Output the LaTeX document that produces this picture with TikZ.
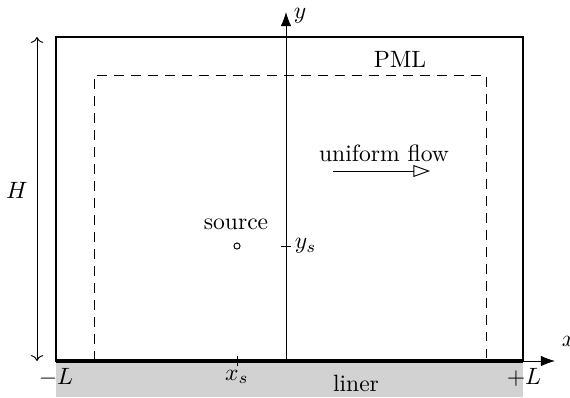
\documentclass[tikz,border=0pt]{standalone}
\usetikzlibrary{arrows.meta}
\begin{document}
\begin{tikzpicture}[x=0.0149cm, y=-0.0149cm]
    \useasboundingbox (0,0) rectangle (570,397);

    % --- styles ---
    \tikzset{rand/.style={line width=0.9pt},
             achse/.style={-{Latex[length=6pt,width=4.5pt]}, thin},
             strich/.style={thin}}

    % --- liner (grau) ---
    \fill[gray!35] (56,361) rectangle (523,397);

    % --- Gebiet und PML ---
    \draw[rand] (56,361) rectangle (523,37);
    \draw[thin, dash pattern=on 4.2pt off 3pt] (94,361) -- (94,75) -- (486,75) -- (486,361);
    \draw[line width=1.6pt] (56,361) -- (523,361);

    % --- Achsen ---
    \coordinate (O) at (286,361);
    \coordinate (yend) at (286,12);
    \coordinate (xstart) at (523,361);
    \coordinate (xend) at (555,361);
    \draw[achse] (O) -- (yend);
    \draw[achse] (xstart) -- (xend);
    \node[anchor=west, inner sep=1pt] (ylab) at (291,16) {$y$};
    \node[anchor=south west, inner sep=1pt] (xlab) at (559,349) {$x$};

    % --- Hoehe H ---
    \coordinate (hoben) at (37,37);
    \coordinate (hunten) at (37,361);
    \draw[{To}-{To}, thin] (hoben) -- (hunten);
    \node (hlab) at (17,190) {$H$};

    % --- Quelle ---
    \node[circle, draw, thin, inner sep=0pt, minimum size=2.6pt] (quelle) at (237,246) {};
    \node[anchor=south] (txt-quelle) at (236,238) {source};
    \draw[strich] (237,356) -- (237,366);
    \draw[strich] (281,246) -- (291,246);
    \node[anchor=west, inner sep=1pt] (txt-ys) at (292,246) {$y_s$};
    \node (txt-xs) at (237,377) {$x_s$};

    % --- Beschriftungen ---
    \node (txt-ml) at (56,377) {$-L$};
    \node (txt-pl) at (524,377) {$+L$};
    \node (txt-liner) at (356,383) {liner};
    \node (txt-pml) at (400,59) {PML};

    % --- Stroemung ---
    \node (txt-flow) at (384,153) {uniform flow};
    \coordinate (fstart) at (333,171);
    \coordinate (fend) at (430,171);
    \draw[-{Triangle[open, length=7pt, width=5pt]}, thin] (fstart) -- (fend);

\end{tikzpicture}
\end{document}
